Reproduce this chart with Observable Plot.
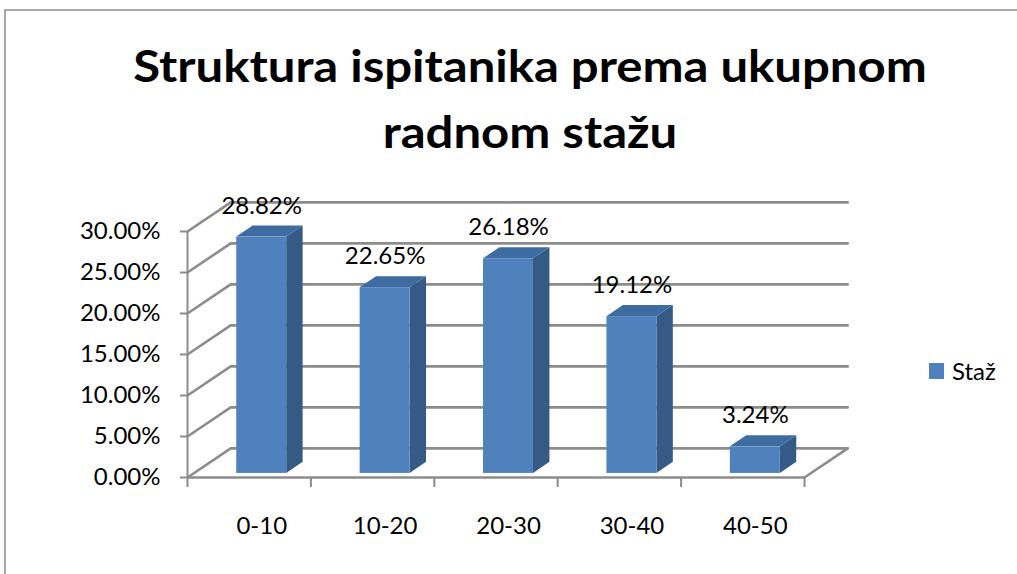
<!DOCTYPE html>
<html>
<head>
<meta charset="utf-8">
<script src="https://cdn.jsdelivr.net/npm/d3@7"></script>
<script src="https://cdn.jsdelivr.net/npm/@observablehq/plot@0.6"></script>
<style>
  html, body { margin: 0; padding: 0; background: white; overflow: hidden; }
  #wrap { position: relative; width: 1017px; height: 574px; overflow: hidden; font-family: Lato, "DejaVu Sans", sans-serif; }
  #border { position: absolute; left: 4px; top: 9px; width: 1100px; height: 700px; border-top: 2px solid #a6a6a6; border-left: 2px solid #a6a6a6; }
  #chart { position: absolute; left: 0; top: 0; }
  #title { position: absolute; left: 0; width: 1060px; top: 32px; text-align: center; font-weight: bold; font-size: 44px; line-height: 66px; color: #000; transform: scaleX(1.115); transform-origin: 530px 50%; white-space: nowrap; }
  #legend { position: absolute; left: 929px; top: 356px; display: flex; align-items: center; font-size: 24px; color: #000; }
  #legend .sw { width: 15px; height: 16px; margin-right: 8px; }
</style>
</head>
<body>
<div id="wrap">
  <div id="border"></div>
  <div id="chart"></div>
  <div id="title"></div>
  <div id="legend"></div>
</div>
<script>
// ---- data ----
const titleLines = ["Struktura ispitanika prema ukupnom", "radnom stažu"];
const categories = ["0-10", "10-20", "20-30", "30-40", "40-50"];
const values = [28.82, 22.65, 26.18, 19.12, 3.24];
const yTicks = [0, 5, 10, 15, 20, 25, 30];
const seriesName = "Staž";

// ---- styling / projection constants (oblique 3D look) ----
const frontColor = "#4f81bd", sideColor = "#355a86", topColor = "#3e6ca1";
const gridColor = "#8c8c8c";
const DX = 0.35, DY = 3.55;     // back wall offset in data units
const ZB = 0.14, ZD = 0.38;     // bar front depth and bar depth
const B0 = 0.35, B1 = 0.755;    // bar extent within band
const nCat = categories.length;

const bars = categories.map((c, i) => ({cat: c, i, v: values[i]}));

// back wall + left wall grid lines
const grid = yTicks.flatMap(t => [
  {x: 0, y: t, k: t},
  {x: DX, y: t + DY, k: t},
  {x: nCat + DX, y: t + DY, k: t}
]);
const floorRight = [{x: nCat, y: 0}, {x: nCat + DX, y: DY}];

const sides = bars.flatMap(b => [ZB, ZB + ZD].map(z => ({
  i: b.i, x: b.i + B1 + z * DX, yb: z * DY, yt: b.v + z * DY
})));
const tops = bars.flatMap(b => [ZB, ZB + ZD].map(z => ({
  i: b.i, xl: b.i + B0 + z * DX, xr: b.i + B1 + z * DX, y: b.v + z * DY
})));
const labelX = i => i + (B0 + B1) / 2 + ZB * DX;

const W = 1017, H = 574;
const plot = Plot.plot({
  width: W, height: H,
  marginLeft: 187, marginRight: W - 804, marginBottom: H - 477, marginTop: 477 - 30 * 8.2,
  style: {background: "transparent", fontFamily: "Lato, 'DejaVu Sans', sans-serif", fontSize: "24px", overflow: "visible"},
  x: {domain: [0, nCat], axis: null},
  y: {domain: [0, 30], axis: null},
  marks: [
    Plot.line(grid, {x: "x", y: "y", z: "k", stroke: gridColor, strokeWidth: 2.6}),
    Plot.line(floorRight, {x: "x", y: "y", stroke: gridColor, strokeWidth: 2.6}),
    Plot.ruleX([0], {y1: 0, y2: 30, stroke: gridColor, strokeWidth: 2}),
    Plot.ruleY([0], {x1: 0, x2: nCat, stroke: gridColor, strokeWidth: 2.6}),
    Plot.axisY(yTicks, {tickSize: 7, tickPadding: 20, stroke: gridColor, strokeWidth: 2, fill: "black", fontSize: 24,
      tickFormat: d => d.toFixed(2) + "%"}),
    Plot.axisX(d3.range(nCat + 1), {tickSize: 10, tickFormat: () => "", stroke: gridColor, strokeWidth: 2}),
    Plot.axisX(bars.map(b => labelX(b.i)), {tickSize: 0, tickPadding: 39, fill: "black", fontSize: 24,
      tickFormat: d => categories[Math.round(d - labelX(0))]}),
    Plot.area(sides, {x1: "x", y1: "yb", y2: "yt", z: "i", fill: sideColor, curve: "linear"}),
    Plot.area(tops, {x1: "xl", x2: "xr", y1: "y", z: "i", fill: topColor, curve: "linear"}),
    Plot.rect(bars, {x1: d => d.i + B0 + ZB * DX, x2: d => d.i + B1 + ZB * DX,
      y1: () => ZB * DY, y2: d => d.v + ZB * DY, fill: frontColor}),
    Plot.text(bars, {x: d => labelX(d.i), y: d => d.v + (ZB + ZD) * DY, dy: -20,
      text: d => d.v.toFixed(2) + "%", fontSize: 24, fill: "black", lineAnchor: "middle"})
  ]
});
document.getElementById("chart").appendChild(plot);

document.getElementById("title").innerHTML = titleLines.join("<br>");
document.getElementById("legend").innerHTML =
  `<div class="sw" style="background:${frontColor}"></div><span>${seriesName}</span>`;
</script>
</body>
</html>
